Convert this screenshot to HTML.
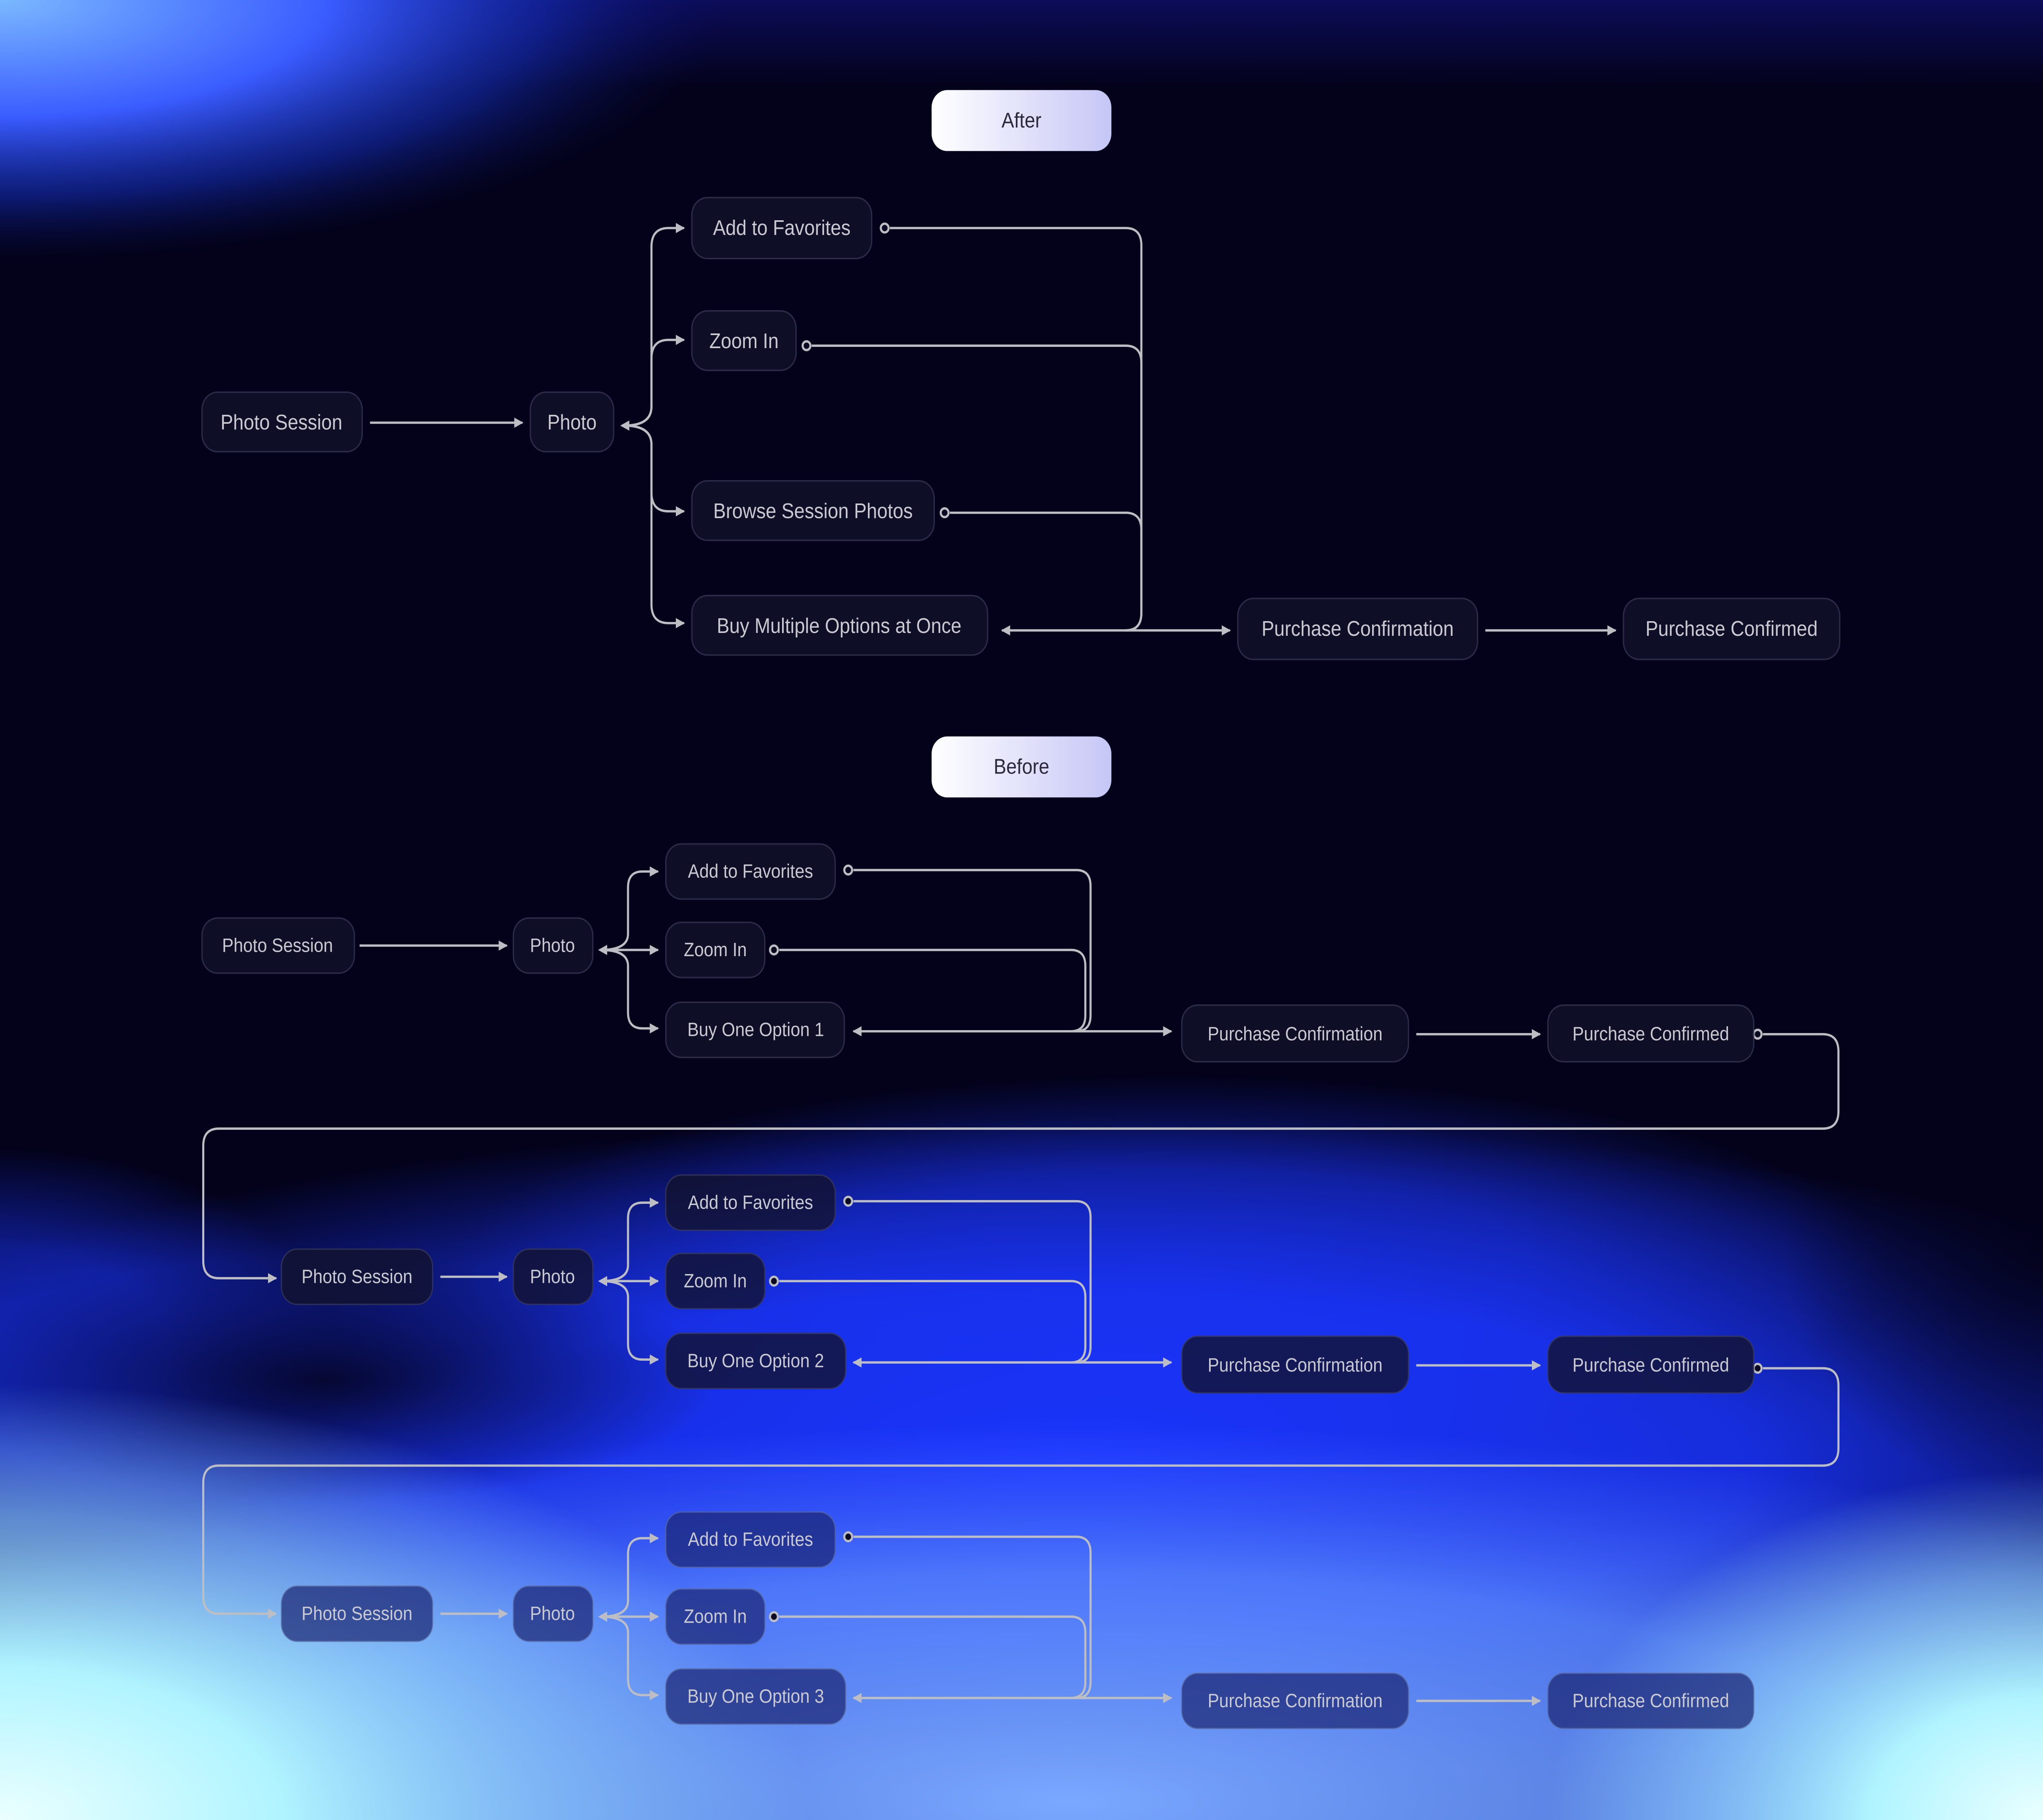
<!DOCTYPE html>
<html><head><meta charset="utf-8">
<style>
html,body{margin:0;padding:0;background:#03021a;overflow:hidden;width:100vw;height:100vh;}
svg{display:block;position:fixed;left:0;top:0;width:100vw;height:100vh;}
text{font-family:"Liberation Sans",sans-serif;fill:#c9c9d2;text-anchor:middle;dominant-baseline:central;}
</style></head>
<body>
<svg viewBox="0 0 1568 1253" preserveAspectRatio="none" xmlns="http://www.w3.org/2000/svg">
<defs>
<radialGradient id="gTL" gradientUnits="userSpaceOnUse" cx="0" cy="0" r="1" gradientTransform="translate(0,0) scale(560,180)">
<stop offset="0" stop-color="#7ab8ff"/>
<stop offset="0.45" stop-color="#3a5cff"/>
<stop offset="0.75" stop-color="#1530c0" stop-opacity="0.55"/>
<stop offset="1" stop-color="#0a1060" stop-opacity="0"/>
</radialGradient>
<linearGradient id="gTop" x1="0" y1="0" x2="0" y2="1">
<stop offset="0" stop-color="#0c0c5a"/>
<stop offset="1" stop-color="#0c0c5a" stop-opacity="0"/>
</linearGradient>
<radialGradient id="gBlue1" gradientUnits="userSpaceOnUse" cx="0" cy="0" r="1" gradientTransform="translate(900,870) scale(550,130)">
<stop offset="0" stop-color="#1a35ff" stop-opacity="0.55"/>
<stop offset="0.5" stop-color="#1a35ff" stop-opacity="0.45"/>
<stop offset="1" stop-color="#1a35ff" stop-opacity="0"/>
</radialGradient>
<radialGradient id="gBlue2" gradientUnits="userSpaceOnUse" cx="0" cy="0" r="1" gradientTransform="translate(820,1010) scale(1050,240)">
<stop offset="0" stop-color="#1a35ff"/>
<stop offset="0.5" stop-color="#1a35ff" stop-opacity="0.85"/>
<stop offset="1" stop-color="#1a35ff" stop-opacity="0"/>
</radialGradient>
<radialGradient id="gBlue3" gradientUnits="userSpaceOnUse" cx="0" cy="0" r="1" gradientTransform="translate(0,930) scale(260,140)">
<stop offset="0" stop-color="#1a35ff" stop-opacity="0.6"/>
<stop offset="0.5" stop-color="#1a35ff" stop-opacity="0.5"/>
<stop offset="1" stop-color="#1a35ff" stop-opacity="0"/>
</radialGradient>
<radialGradient id="gLight" gradientUnits="userSpaceOnUse" cx="0" cy="0" r="1" gradientTransform="translate(820,1240) scale(1100,260)">
<stop offset="0" stop-color="#7aa8ff"/>
<stop offset="0.6" stop-color="#5a88ff" stop-opacity="0.8"/>
<stop offset="1" stop-color="#4a70ff" stop-opacity="0"/>
</radialGradient>
<radialGradient id="gDark1" gradientUnits="userSpaceOnUse" cx="0" cy="0" r="1" gradientTransform="translate(250,950) scale(300,85)">
<stop offset="0" stop-color="#03021a" stop-opacity="0.85"/>
<stop offset="1" stop-color="#03021a" stop-opacity="0"/>
</radialGradient>
<radialGradient id="gDark2" gradientUnits="userSpaceOnUse" cx="0" cy="0" r="1" gradientTransform="translate(1568,860) scale(200,170)">
<stop offset="0" stop-color="#03021a" stop-opacity="0.85"/>
<stop offset="1" stop-color="#03021a" stop-opacity="0"/>
</radialGradient>
<radialGradient id="gCyan1" gradientUnits="userSpaceOnUse" cx="0" cy="0" r="1" gradientTransform="translate(0,1253) scale(620,300)">
<stop offset="0" stop-color="#eaffff"/>
<stop offset="0.35" stop-color="#b0f4ff"/>
<stop offset="0.7" stop-color="#90d0ff" stop-opacity="0.6"/>
<stop offset="1" stop-color="#90d0ff" stop-opacity="0"/>
</radialGradient>
<radialGradient id="gCyan2" gradientUnits="userSpaceOnUse" cx="0" cy="0" r="1" gradientTransform="translate(1568,1253) scale(380,240)">
<stop offset="0" stop-color="#eaffff"/>
<stop offset="0.35" stop-color="#b0f4ff"/>
<stop offset="0.7" stop-color="#90d0ff" stop-opacity="0.6"/>
<stop offset="1" stop-color="#90d0ff" stop-opacity="0"/>
</radialGradient>
<linearGradient id="pill" x1="0" y1="0" x2="1" y2="0">
<stop offset="0" stop-color="#ffffff"/>
<stop offset="1" stop-color="#c6c6f6"/>
</linearGradient>
<marker id="ah" viewBox="0 0 10 10" refX="9" refY="5" markerWidth="7" markerHeight="7" markerUnits="userSpaceOnUse" orient="auto">
<path d="M0,0 L10,5 L0,10 Z" fill="#bdbdc4"/>
</marker>
</defs>
<rect width="1568" height="1253" fill="#03021a"/>
<rect width="1568" height="60" fill="url(#gTop)"/>
<rect width="1568" height="1253" fill="url(#gTL)"/>
<rect width="1568" height="1253" fill="url(#gBlue1)"/>
<rect width="1568" height="1253" fill="url(#gBlue2)"/>
<rect width="1568" height="1253" fill="url(#gBlue3)"/>
<rect width="1568" height="1253" fill="url(#gLight)"/>
<rect width="1568" height="1253" fill="url(#gDark1)"/>
<rect width="1568" height="1253" fill="url(#gDark2)"/>
<rect width="1568" height="1253" fill="url(#gCyan1)"/>
<rect width="1568" height="1253" fill="url(#gCyan2)"/>

<rect x="715" y="62" width="138" height="42" rx="12" fill="url(#pill)"/>
<text x="784" y="83" style="fill:#2a2a3a;font-size:14.5px">After</text>
<rect x="715" y="507" width="138" height="42" rx="12" fill="url(#pill)"/>
<text x="784" y="528" style="fill:#2a2a3a;font-size:14.5px">Before</text>

<g fill="none" stroke="#bdbdc4" stroke-width="1.6">
<path d="M284,291 H401" marker-end="url(#ah)"/>
<path d="M479,293 Q500,293 500,280 V170 Q500,157 513,157 H525" marker-end="url(#ah)"/>
<path d="M479,293 Q500,293 500,280 V247 Q500,234 513,234 H525" marker-end="url(#ah)"/>
<path d="M479,293 Q500,293 500,306 V339 Q500,352 513,352 H525" marker-end="url(#ah)"/>
<path d="M479,293 Q500,293 500,306 V416 Q500,429 513,429 H525" marker-end="url(#ah)"/>
<path d="M683,157 H864 Q876,157 876,169 V422 Q876,434 864,434 H769" marker-end="url(#ah)"/>
<path d="M623,238 H864 Q876,238 876,250 V422 Q876,434 864,434"/>
<path d="M729,353 H864 Q876,353 876,365 V422 Q876,434 864,434"/>
<path d="M864,434 H944" marker-end="url(#ah)"/>
<path d="M1140,434 H1240" marker-end="url(#ah)"/>

<path d="M276,651 H389" marker-end="url(#ah)"/>
<path d="M461,654 Q482,654 482,643 V611 Q482,600 493,600 H505" marker-end="url(#ah)"/>
<path d="M461,654 H505" marker-end="url(#ah)"/>
<path d="M461,654 Q482,654 482,665 V697 Q482,708 493,708 H505" marker-end="url(#ah)"/>
<path d="M655,599 H826 Q837,599 837,610 V699 Q837,710 826,710 H655" marker-end="url(#ah)"/>
<path d="M598,654 H822 Q833,654 833,665 V699 Q833,710 822,710"/>
<path d="M826,710 H899" marker-end="url(#ah)"/>
<path d="M1087,712 H1182" marker-end="url(#ah)"/>
<path d="M1353,712 H1399 Q1411,712 1411,724 V765 Q1411,777 1399,777 H168 Q156,777 156,789 V868 Q156,880 168,880 H212" marker-end="url(#ah)"/>

<path d="M338,879 H389" marker-end="url(#ah)"/>
<path d="M461,882 Q482,882 482,871 V839 Q482,828 493,828 H505" marker-end="url(#ah)"/>
<path d="M461,882 H505" marker-end="url(#ah)"/>
<path d="M461,882 Q482,882 482,893 V925 Q482,936 493,936 H505" marker-end="url(#ah)"/>
<path d="M655,827 H826 Q837,827 837,838 V927 Q837,938 826,938 H655" marker-end="url(#ah)"/>
<path d="M598,882 H822 Q833,882 833,893 V927 Q833,938 822,938"/>
<path d="M826,938 H899" marker-end="url(#ah)"/>
<path d="M1087,940 H1182" marker-end="url(#ah)"/>
<path d="M1353,942 H1399 Q1411,942 1411,954 V997 Q1411,1009 1399,1009 H168 Q156,1009 156,1021 V1099 Q156,1111 168,1111 H212" marker-end="url(#ah)"/>

<path d="M338,1111 H389" marker-end="url(#ah)"/>
<path d="M461,1113 Q482,1113 482,1102 V1070 Q482,1059 493,1059 H505" marker-end="url(#ah)"/>
<path d="M461,1113 H505" marker-end="url(#ah)"/>
<path d="M461,1113 Q482,1113 482,1124 V1156 Q482,1167 493,1167 H505" marker-end="url(#ah)"/>
<path d="M655,1058 H826 Q837,1058 837,1069 V1158 Q837,1169 826,1169 H655" marker-end="url(#ah)"/>
<path d="M598,1113 H822 Q833,1113 833,1124 V1158 Q833,1169 822,1169"/>
<path d="M826,1169 H899" marker-end="url(#ah)"/>
<path d="M1087,1171 H1182" marker-end="url(#ah)"/>
</g>
<g fill="#bdbdc4">
<path d="M476,293 L483,289.5 L483,296.5 Z"/>
<path d="M459,654 L466,650.5 L466,657.5 Z"/>
<path d="M459,882 L466,878.5 L466,885.5 Z"/>
<path d="M459,1113 L466,1109.5 L466,1116.5 Z"/>
</g>
<g fill="#0a0a22" stroke="#bdbdc4" stroke-width="1.6">
<circle cx="679" cy="157" r="3"/>
<circle cx="619" cy="238" r="3"/>
<circle cx="725" cy="353" r="3"/>
<circle cx="651" cy="599" r="3"/>
<circle cx="594" cy="654" r="3"/>
<circle cx="1349" cy="712" r="3"/>
<circle cx="651" cy="827" r="3"/>
<circle cx="594" cy="882" r="3"/>
<circle cx="1349" cy="942" r="3"/>
<circle cx="651" cy="1058" r="3"/>
<circle cx="594" cy="1113" r="3"/>
</g>

<g fill="#12122b" fill-opacity="0.78" stroke="#3a3a5a" stroke-opacity="0.7" stroke-width="1">
<rect x="155" y="270" width="123" height="41" rx="12"/>
<rect x="407" y="270" width="64" height="41" rx="12"/>
<rect x="531" y="136" width="138" height="42" rx="12"/>
<rect x="531" y="214" width="80" height="41" rx="12"/>
<rect x="531" y="331" width="186" height="41" rx="12"/>
<rect x="531" y="410" width="227" height="41" rx="12"/>
<rect x="950" y="412" width="184" height="42" rx="12"/>
<rect x="1246" y="412" width="166" height="42" rx="12"/>

<rect x="155" y="632" width="117" height="38" rx="12"/>
<rect x="394" y="632" width="61" height="38" rx="12"/>
<rect x="511" y="581" width="130" height="38" rx="12"/>
<rect x="511" y="635" width="76" height="38" rx="12"/>
<rect x="511" y="690" width="137" height="38" rx="12"/>
<rect x="907" y="692" width="174" height="39" rx="12"/>
<rect x="1188" y="692" width="158" height="39" rx="12"/>

<rect x="216" y="860" width="116" height="38" rx="12"/>
<rect x="394" y="860" width="61" height="38" rx="12"/>
<rect x="511" y="809" width="130" height="38" rx="12"/>
<rect x="511" y="863" width="76" height="38" rx="12"/>
<rect x="511" y="918" width="138" height="38" rx="12"/>
<rect x="907" y="920" width="174" height="39" rx="12"/>
<rect x="1188" y="920" width="158" height="39" rx="12"/>
</g>
<g fill="#1a2470" fill-opacity="0.7" stroke="#5a6aa0" stroke-opacity="0.6" stroke-width="1">
<rect x="216" y="1092" width="116" height="38" rx="12"/>
<rect x="394" y="1092" width="61" height="38" rx="12"/>
<rect x="511" y="1041" width="130" height="38" rx="12"/>
<rect x="511" y="1094" width="76" height="38" rx="12"/>
<rect x="511" y="1149" width="138" height="38" rx="12"/>
<rect x="907" y="1152" width="174" height="38" rx="12"/>
<rect x="1188" y="1152" width="158" height="38" rx="12"/>
</g>

<g style="font-size:14.5px">
<text x="216" y="291">Photo Session</text>
<text x="439" y="291">Photo</text>
<text x="600" y="157">Add to Favorites</text>
<text x="571" y="235">Zoom In</text>
<text x="624" y="352">Browse Session Photos</text>
<text x="644" y="431">Buy Multiple Options at Once</text>
<text x="1042" y="433">Purchase Confirmation</text>
<text x="1329" y="433">Purchase Confirmed</text>
</g>
<g style="font-size:13.2px">
<text x="213" y="651">Photo Session</text>
<text x="424" y="651">Photo</text>
<text x="576" y="600">Add to Favorites</text>
<text x="549" y="654">Zoom In</text>
<text x="580" y="709">Buy One Option 1</text>
<text x="994" y="712">Purchase Confirmation</text>
<text x="1267" y="712">Purchase Confirmed</text>

<text x="274" y="879">Photo Session</text>
<text x="424" y="879">Photo</text>
<text x="576" y="828">Add to Favorites</text>
<text x="549" y="882">Zoom In</text>
<text x="580" y="937">Buy One Option 2</text>
<text x="994" y="940">Purchase Confirmation</text>
<text x="1267" y="940">Purchase Confirmed</text>

<text x="274" y="1111">Photo Session</text>
<text x="424" y="1111">Photo</text>
<text x="576" y="1060">Add to Favorites</text>
<text x="549" y="1113">Zoom In</text>
<text x="580" y="1168">Buy One Option 3</text>
<text x="994" y="1171">Purchase Confirmation</text>
<text x="1267" y="1171">Purchase Confirmed</text>
</g>
</svg>
</body></html>
